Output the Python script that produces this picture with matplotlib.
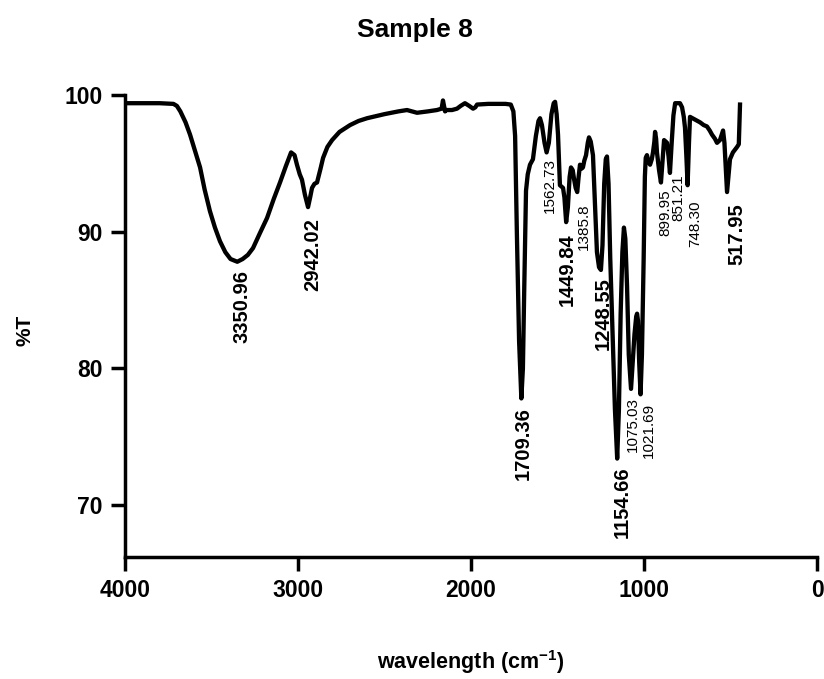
import matplotlib
matplotlib.use("Agg")
import matplotlib.pyplot as plt

plt.rcParams['font.family'] = ['Liberation Sans', 'DejaVu Sans']
plt.rcParams['mathtext.fontset'] = 'custom'
plt.rcParams['mathtext.rm'] = 'Liberation Sans:bold'
plt.rcParams['mathtext.bf'] = 'Liberation Sans:bold'
plt.rcParams['mathtext.it'] = 'Liberation Sans:bold'

wavenumber = [4000, 3900, 3800, 3720, 3700, 3680, 3650, 3624, 3595, 3566, 3540, 3509, 3480, 3451, 3420,
              3390, 3351, 3320, 3290, 3260, 3220, 3179, 3140, 3104, 3070, 3040, 3020, 3006, 2990, 2977,
              2960, 2942, 2930, 2919, 2905, 2890, 2870, 2855, 2830, 2803, 2760, 2699, 2650, 2601, 2500,
              2420, 2370, 2312, 2250, 2197, 2170, 2162, 2150, 2145, 2110, 2081, 2060, 2035, 2010, 1988,
              1975, 1965, 1900, 1800, 1770, 1755, 1745, 1735, 1722, 1709, 1700, 1692, 1682, 1672, 1659,
              1642, 1625, 1610, 1601, 1590, 1575, 1563, 1550, 1535, 1522, 1514, 1505, 1497, 1486, 1468,
              1460, 1450, 1440, 1430, 1422, 1412, 1405, 1395, 1386, 1378, 1370, 1362, 1353, 1345, 1335,
              1325, 1318, 1308, 1295, 1285, 1272, 1260, 1249, 1240, 1230, 1221, 1214, 1205, 1195, 1180,
              1168, 1155, 1145, 1135, 1125, 1116, 1108, 1098, 1088, 1075, 1065, 1055, 1045, 1040, 1035,
              1028, 1020, 1012, 1002, 995, 990, 983, 975, 965, 955, 948, 940, 936, 930, 925,
              913, 902, 894, 884, 875, 867, 858, 850, 840, 830, 820, 805, 792, 780, 770,
              763, 755, 748, 740, 734, 720, 705, 690, 676, 655, 636, 620, 607, 590, 578,
              561, 543, 535, 527, 520, 512, 503, 486, 462, 452, 445]
transmittance = [99.4, 99.4, 99.4, 99.35, 99.2, 98.8, 98.0, 97.1, 95.9, 94.7, 93.1, 91.5, 90.3, 89.3, 88.5,
                 88.0, 87.8, 88.0, 88.3, 88.8, 89.9, 91.0, 92.4, 93.6, 94.8, 95.8, 95.6, 94.9, 94.2, 93.8,
                 92.7, 91.8, 92.5, 93.2, 93.5, 93.6, 94.6, 95.4, 96.2, 96.7, 97.3, 97.8, 98.1, 98.3, 98.6,
                 98.8, 98.9, 98.7, 98.8, 98.9, 99.0, 99.6, 98.8, 98.9, 98.9, 99.0, 99.2, 99.4, 99.2, 99.0,
                 99.1, 99.3, 99.35, 99.35, 99.3, 98.8, 97.0, 90.0, 82.0, 77.8, 80.0, 86.0, 93.0, 94.2, 94.9,
                 95.3, 97.0, 98.1, 98.3, 97.8, 96.5, 95.8, 96.5, 98.6, 99.4, 99.5, 98.6, 97.1, 93.4, 93.2,
                 92.5, 90.7, 91.8, 94.0, 94.7, 94.5, 93.9, 93.2, 92.9, 94.0, 94.9, 94.6, 94.7, 95.2, 95.6,
                 96.5, 96.9, 96.6, 95.6, 92.5, 88.5, 87.4, 87.2, 89.0, 93.5, 95.3, 95.5, 93.5, 88.0, 82.0,
                 77.0, 73.4, 77.0, 84.0, 88.5, 90.3, 89.5, 86.0, 81.0, 78.5, 80.5, 82.5, 83.8, 84.0, 83.5,
                 80.5, 78.1, 81.0, 88.0, 94.0, 95.4, 95.6, 95.2, 94.9, 95.3, 95.8, 96.6, 97.3, 96.8, 95.8,
                 94.5, 93.6, 95.0, 96.7, 96.6, 96.5, 95.5, 94.3, 96.5, 98.5, 99.4, 99.4, 99.4, 99.1, 98.4,
                 97.6, 95.5, 93.4, 96.5, 98.4, 98.3, 98.2, 98.1, 98.0, 97.8, 97.7, 97.4, 97.1, 96.8, 96.5,
                 96.7, 97.4, 96.5, 94.5, 92.9, 94.0, 95.3, 95.8, 96.2, 96.4, 99.3]

# peak labels: text, x position, top y, bold?
peak_labels = ["3350.96", "2942.02", "1709.36", "1449.84", "1248.55", "1154.66", "517.95",
               "1562.73", "1385.8", "1075.03", "1021.69", "899.95", "851.21", "748.30"]
label_x = [3324, 2913, 1699, 1445, 1237, 1127, 462,
           1543, 1347, 1064, 971, 879, 803, 705]
label_top = [87.2, 91.0, 77.2, 89.9, 86.7, 72.8, 92.1,
             95.4, 92.1, 77.9, 77.5, 93.1, 94.2, 92.3]
label_bold = [True, True, True, True, True, True, True,
              False, False, False, False, False, False, False]

xticks = [4000, 3000, 2000, 1000, 0]
yticks = [70, 80, 90, 100]

fig = plt.figure(figsize=(8.24, 6.79), dpi=100)
ax = fig.add_axes([125/824, 1-557/679, (817-125)/824, (557-95)/679])

ax.plot(wavenumber, transmittance, color='black', lw=3.1, solid_joinstyle='round')

ax.set_xlim(4000, 0)
ax.set_ylim(66.2, 100)
ax.set_xticks(xticks)
ax.set_yticks(yticks)
ax.set_xticklabels([str(t) for t in xticks], fontsize=16.5, fontweight='bold')
ax.set_yticklabels([str(t) for t in yticks], fontsize=16.5, fontweight='bold')

for s in ['top', 'right']:
    ax.spines[s].set_visible(False)
for s in ['left', 'bottom']:
    ax.spines[s].set_linewidth(2.5)
ax.tick_params(axis='both', direction='out', length=10, width=2.5, pad=6)

for txt, x, y, b in zip(peak_labels, label_x, label_top, label_bold):
    if b:
        ax.text(x, y, txt, rotation=90, ha='center', va='top', fontsize=14.5, fontweight='bold')
    else:
        ax.text(x, y, txt, rotation=90, ha='center', va='top', fontsize=11)

fig.text(415/824, 1-30/679, "Sample 8", ha='center', va='center', fontsize=19, fontweight='bold')
fig.text(25/824, 1-330/679, "%T", ha='center', va='center', rotation=90, fontsize=15, fontweight='bold')
fig.text(471/824, 1-662/679, r"wavelength (cm$^{-1}$)", ha='center', va='center', fontsize=15.5, fontweight='bold')

fig.savefig("out.png", dpi=100)
